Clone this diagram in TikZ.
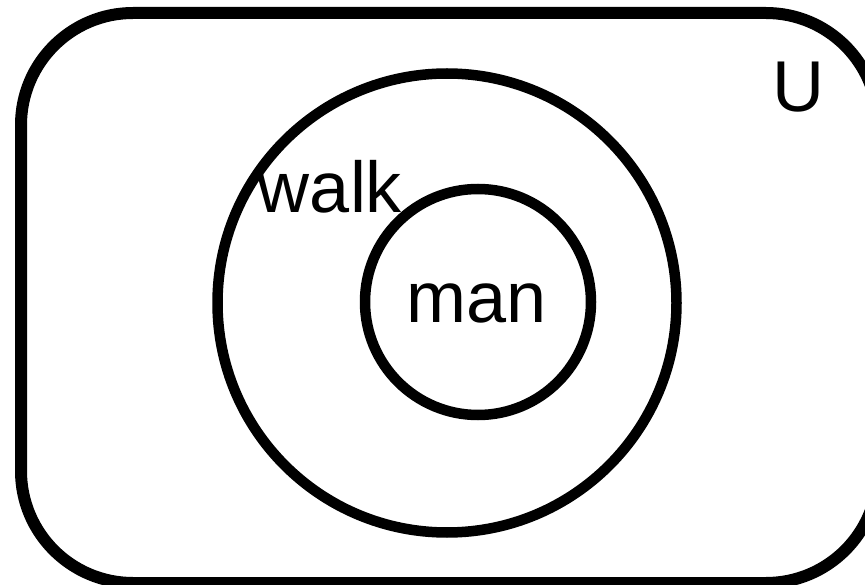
\documentclass[tikz,border=0pt]{standalone}
\usepackage{fontspec}
\setmainfont{Liberation Sans}
\begin{document}
\begin{tikzpicture}[x=1pt,y=-1pt,
  setline/.style={draw=black,line width=10.5pt,inner sep=0pt,outer sep=0pt},
  lbl/.style={font=\fontsize{72}{80}\selectfont,inner sep=0pt,anchor=base}]
\useasboundingbox (0,0) rectangle (865,585);
\begin{scope}
\clip (0,0) rectangle (865,585);
\node[setline,line width=12pt,rectangle,rounded corners=112pt,minimum width=857pt,minimum height=570pt] (U) at (449.5,298) {};
\end{scope}
\node[setline,circle,minimum size=459pt] (walk) at (447,303) {};
\node[setline,circle,minimum size=226pt] (man) at (478,302) {};
\node[lbl] (tU) at (798,112) {U};
\node[lbl] (tw) at (330,213) {walk};
\node[lbl] (tm) at (477,323) {man};
\end{tikzpicture}
\end{document}
